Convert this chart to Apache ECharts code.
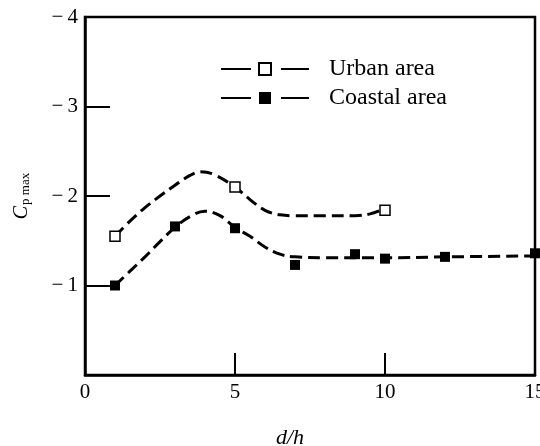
<!DOCTYPE html>
<html><head><meta charset="utf-8">
<script src="https://cdn.jsdelivr.net/npm/echarts@6/dist/echarts.min.js"></script>
<style>html,body{margin:0;padding:0;background:#fff}#c{width:540px;height:446px}</style>
</head><body><div id="c"></div>
<script>
// Data
var xTicks = [0, 5, 10, 15];
var yTicks = [-4, -3, -2, -1];
var urbanPoints = [[1,-1.55],[5,-2.10],[10,-1.84]];
var coastalPoints = [[1,-1.00],[3,-1.66],[5,-1.64],[7,-1.23],[9,-1.35],[10,-1.30],[12,-1.32],[15,-1.36]];
var urbanCurve = [[1,-1.55],[1.5,-1.72],[2,-1.87],[2.5,-2.00],[3,-2.12],[3.5,-2.23],[3.85,-2.27],[4.3,-2.24],[5,-2.10],[5.5,-1.96],[6,-1.84],[6.5,-1.79],[7,-1.78],[8,-1.78],[9,-1.78],[9.5,-1.80],[9.85,-1.84]];
var coastalCurve = [[1,-1.00],[1.5,-1.16],[2,-1.32],[2.5,-1.49],[3,-1.65],[3.5,-1.77],[4,-1.83],[4.5,-1.78],[5,-1.65],[5.5,-1.55],[6,-1.43],[6.5,-1.35],[7,-1.32],[8,-1.31],[10,-1.31],[12,-1.32],[15,-1.33]];
var seriesNames = ['Urban area', 'Coastal area'];

var FONT = "'Liberation Serif','DejaVu Serif',serif";
var chart = echarts.init(document.getElementById('c'), null, {renderer: 'canvas'});
var dash = [12, 6];
chart.setOption({
  animation: false,
  backgroundColor: '#fff',
  grid: {left: 85, right: 5, top: 17, bottom: 71, show: true, borderColor: '#000', borderWidth: 2.5,
         containLabel: false, outerBoundsMode: 'none'},
  legend: {
    orient: 'vertical', left: 220, top: 57, padding: 0,
    itemWidth: 88, itemHeight: 15, itemGap: 5,
    data: seriesNames,
    textStyle: {fontFamily: FONT, fontSize: 24, lineHeight: 24, color: '#000', padding: [0,0,0,15]},
    lineStyle: {type: [30, 30, 28, 60], width: 2, color: '#000'}
  },
  xAxis: {
    type: 'value', min: xTicks[0], max: xTicks[xTicks.length-1], interval: 5,
    name: 'd/h', nameLocation: 'middle', nameGap: 52,
    nameTextStyle: {fontFamily: FONT, fontSize: 22, fontStyle: 'italic', color: '#000', padding: [0, 40, 0, 0]},
    axisLine: {show: true, lineStyle: {color: '#000', width: 2.5}},
    axisTick: {show: true, inside: true, length: 22, lineStyle: {color: '#000', width: 2}},
    axisLabel: {fontFamily: FONT, fontSize: 21, color: '#000', margin: 7, showMaxLabel: true},
    splitLine: {show: false}
  },
  yAxis: {
    type: 'value', min: yTicks[0], max: 0, interval: 1, inverse: true,
    name: '{i|C}{s|p max}', nameLocation: 'middle', nameGap: 53,
    nameTextStyle: {color: '#000', rich: {
      i: {fontFamily: FONT, fontSize: 20, fontStyle: 'italic', color: '#000'},
      s: {fontFamily: FONT, fontSize: 13, color: '#000', padding: [8, 0, 0, 1]}
    }},
    axisLine: {show: true, lineStyle: {color: '#000', width: 2.5}},
    axisTick: {show: true, inside: true, length: 25, lineStyle: {color: '#000', width: 2}},
    axisLabel: {fontFamily: FONT, fontSize: 21, color: '#000', margin: 7,
      formatter: function (v) { return v === 0 ? '' : '\u2212\u2009' + Math.abs(v); }},
    splitLine: {show: false}
  },
  series: [
    {name: seriesNames[0], type: 'line', data: urbanCurve, smooth: 0.4, symbol: 'rect', symbolSize: 10, showSymbol: false,
     lineStyle: {color: '#000', width: 3, type: dash},
     itemStyle: {color: '#fff', borderColor: '#000', borderWidth: 1.5, opacity: 1}, z: 2},
    {name: seriesNames[1], type: 'line', data: coastalCurve, smooth: 0.4, symbol: 'rect', symbolSize: 12, showSymbol: false,
     lineStyle: {color: '#000', width: 3, type: dash},
     itemStyle: {color: '#000', opacity: 1}, z: 2},
    {type: 'scatter', data: urbanPoints, symbol: 'rect', symbolSize: 10, clip: false,
     itemStyle: {color: '#fff', borderColor: '#000', borderWidth: 1.5, opacity: 1}, z: 5},
    {type: 'scatter', data: coastalPoints, symbol: 'rect', symbolSize: 10, clip: false,
     itemStyle: {color: '#000', opacity: 1}, z: 5}
  ]
});
</script></body></html>
